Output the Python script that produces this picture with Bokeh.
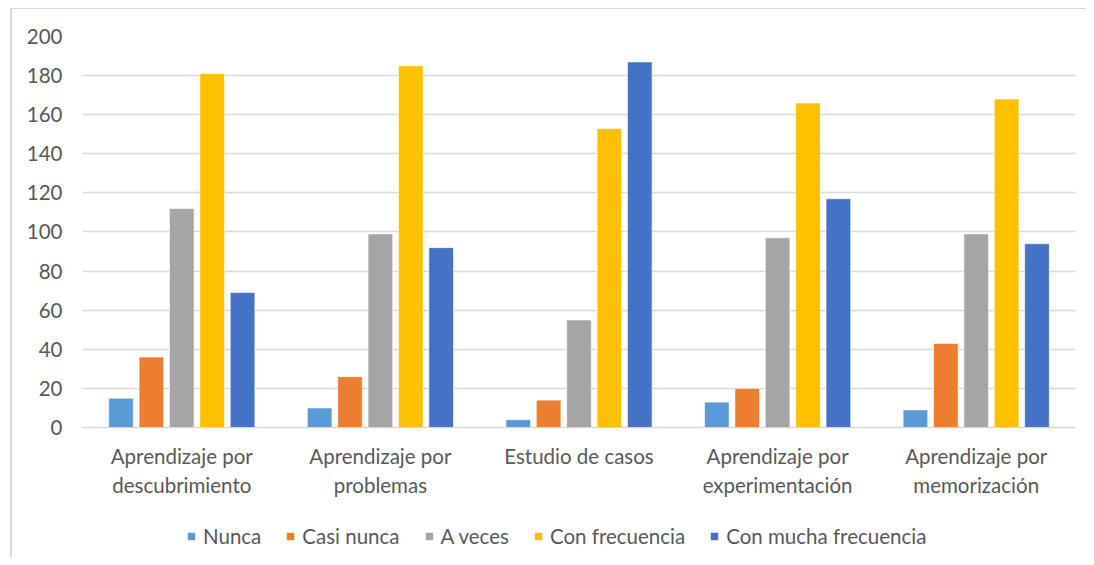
from bokeh.plotting import figure
from bokeh.models import (ColumnDataSource, Legend, LegendItem, FixedTicker,
                          Range1d)
from bokeh.embed import file_html
from bokeh.resources import INLINE

categories = ["Aprendizaje por descubrimiento", "Aprendizaje por problemas",
              "Estudio de casos", "Aprendizaje por experimentación",
              "Aprendizaje por memorización"]
tick_labels = ["Aprendizaje por\ndescubrimiento", "Aprendizaje por\nproblemas",
               "Estudio de casos", "Aprendizaje por\nexperimentación",
               "Aprendizaje por\nmemorización"]
series = ["Nunca", "Casi nunca", "A veces", "Con frecuencia", "Con mucha frecuencia"]
y_ticks = [0, 20, 40, 60, 80, 100, 120, 140, 160, 180, 200]
nunca = [15, 10, 4, 13, 9]
casi_nunca = [36, 26, 14, 20, 43]
a_veces = [112, 99, 55, 97, 99]
con_frecuencia = [181, 185, 153, 166, 168]
con_mucha_frecuencia = [69, 92, 187, 117, 94]
values = [nunca, casi_nunca, a_veces, con_frecuencia, con_mucha_frecuencia]
colors = ["#5B9BD5", "#ED7D31", "#A5A5A5", "#FFC000", "#4472C4"]

FONT = "Lato"
TXT = "#595959"
FS = "20.5px"

# frame extends below zero so that the category labels and legend live inside it
p = figure(frame_width=993, frame_height=521, output_backend="svg",
           toolbar_location=None,
           x_range=Range1d(0, len(categories)), y_range=Range1d(-66.5, 200),
           min_border_left=70, min_border_right=11, min_border_top=27,
           min_border_bottom=0)
p.styles = {"margin-left": "10px", "margin-top": "8px",
            "border-left": "2px solid #d9d9d9", "border-top": "1px solid #d9d9d9"}
p.outline_line_color = None
p.background_fill_color = "white"
p.border_fill_color = "white"

pitch = 0.153
bw = 0.124
items = []
for i, (name, vals, col) in enumerate(zip(series, values, colors)):
    xs = [k + 0.5 + (i - 2) * pitch for k in range(len(categories))]
    src = ColumnDataSource(dict(x=xs, top=vals, cat=categories))
    r = p.vbar(x="x", top="top", width=bw, bottom=0, source=src,
               fill_color=col, line_color="white", line_width=0.6)
    items.append(LegendItem(label=name, renderers=[r]))

# axes
p.xaxis.fixed_location = 0
p.xaxis.ticker = FixedTicker(ticks=[k + 0.5 for k in range(len(categories))])
p.xaxis.major_label_overrides = {k + 0.5: lab for k, lab in enumerate(tick_labels)}
p.xaxis.axis_line_color = "#d9d9d9"
p.xaxis.axis_line_width = 1
p.xaxis.major_tick_line_color = None
p.xaxis.minor_tick_line_color = None
p.xaxis.major_tick_out = 0
p.xaxis.major_tick_in = 0
p.xaxis.major_label_text_font = FONT
p.xaxis.major_label_text_font_size = FS
p.xaxis.major_label_text_color = TXT
p.xaxis.major_label_standoff = 17

p.yaxis.ticker = FixedTicker(ticks=y_ticks)
p.yaxis.axis_line_color = None
p.yaxis.major_tick_line_color = None
p.yaxis.minor_tick_line_color = None
p.yaxis.major_tick_out = 0
p.yaxis.major_tick_in = 0
p.yaxis.major_label_text_font = FONT
p.yaxis.major_label_text_font_size = FS
p.yaxis.major_label_text_color = TXT
p.yaxis.major_label_standoff = 20

p.xgrid.grid_line_color = None
p.ygrid.grid_line_color = "#d9d9d9"
p.ygrid.grid_line_width = 1.5

legend = Legend(items=items, orientation="horizontal", location=(104, 9),
                label_text_font=FONT, label_text_font_size=FS,
                label_text_color=TXT, glyph_width=10, glyph_height=10,
                spacing=24, label_standoff=7, border_line_color=None,
                background_fill_alpha=0, padding=0, margin=0)
p.add_layout(legend, "center")

open("out.html", "w").write(file_html(p, INLINE))
